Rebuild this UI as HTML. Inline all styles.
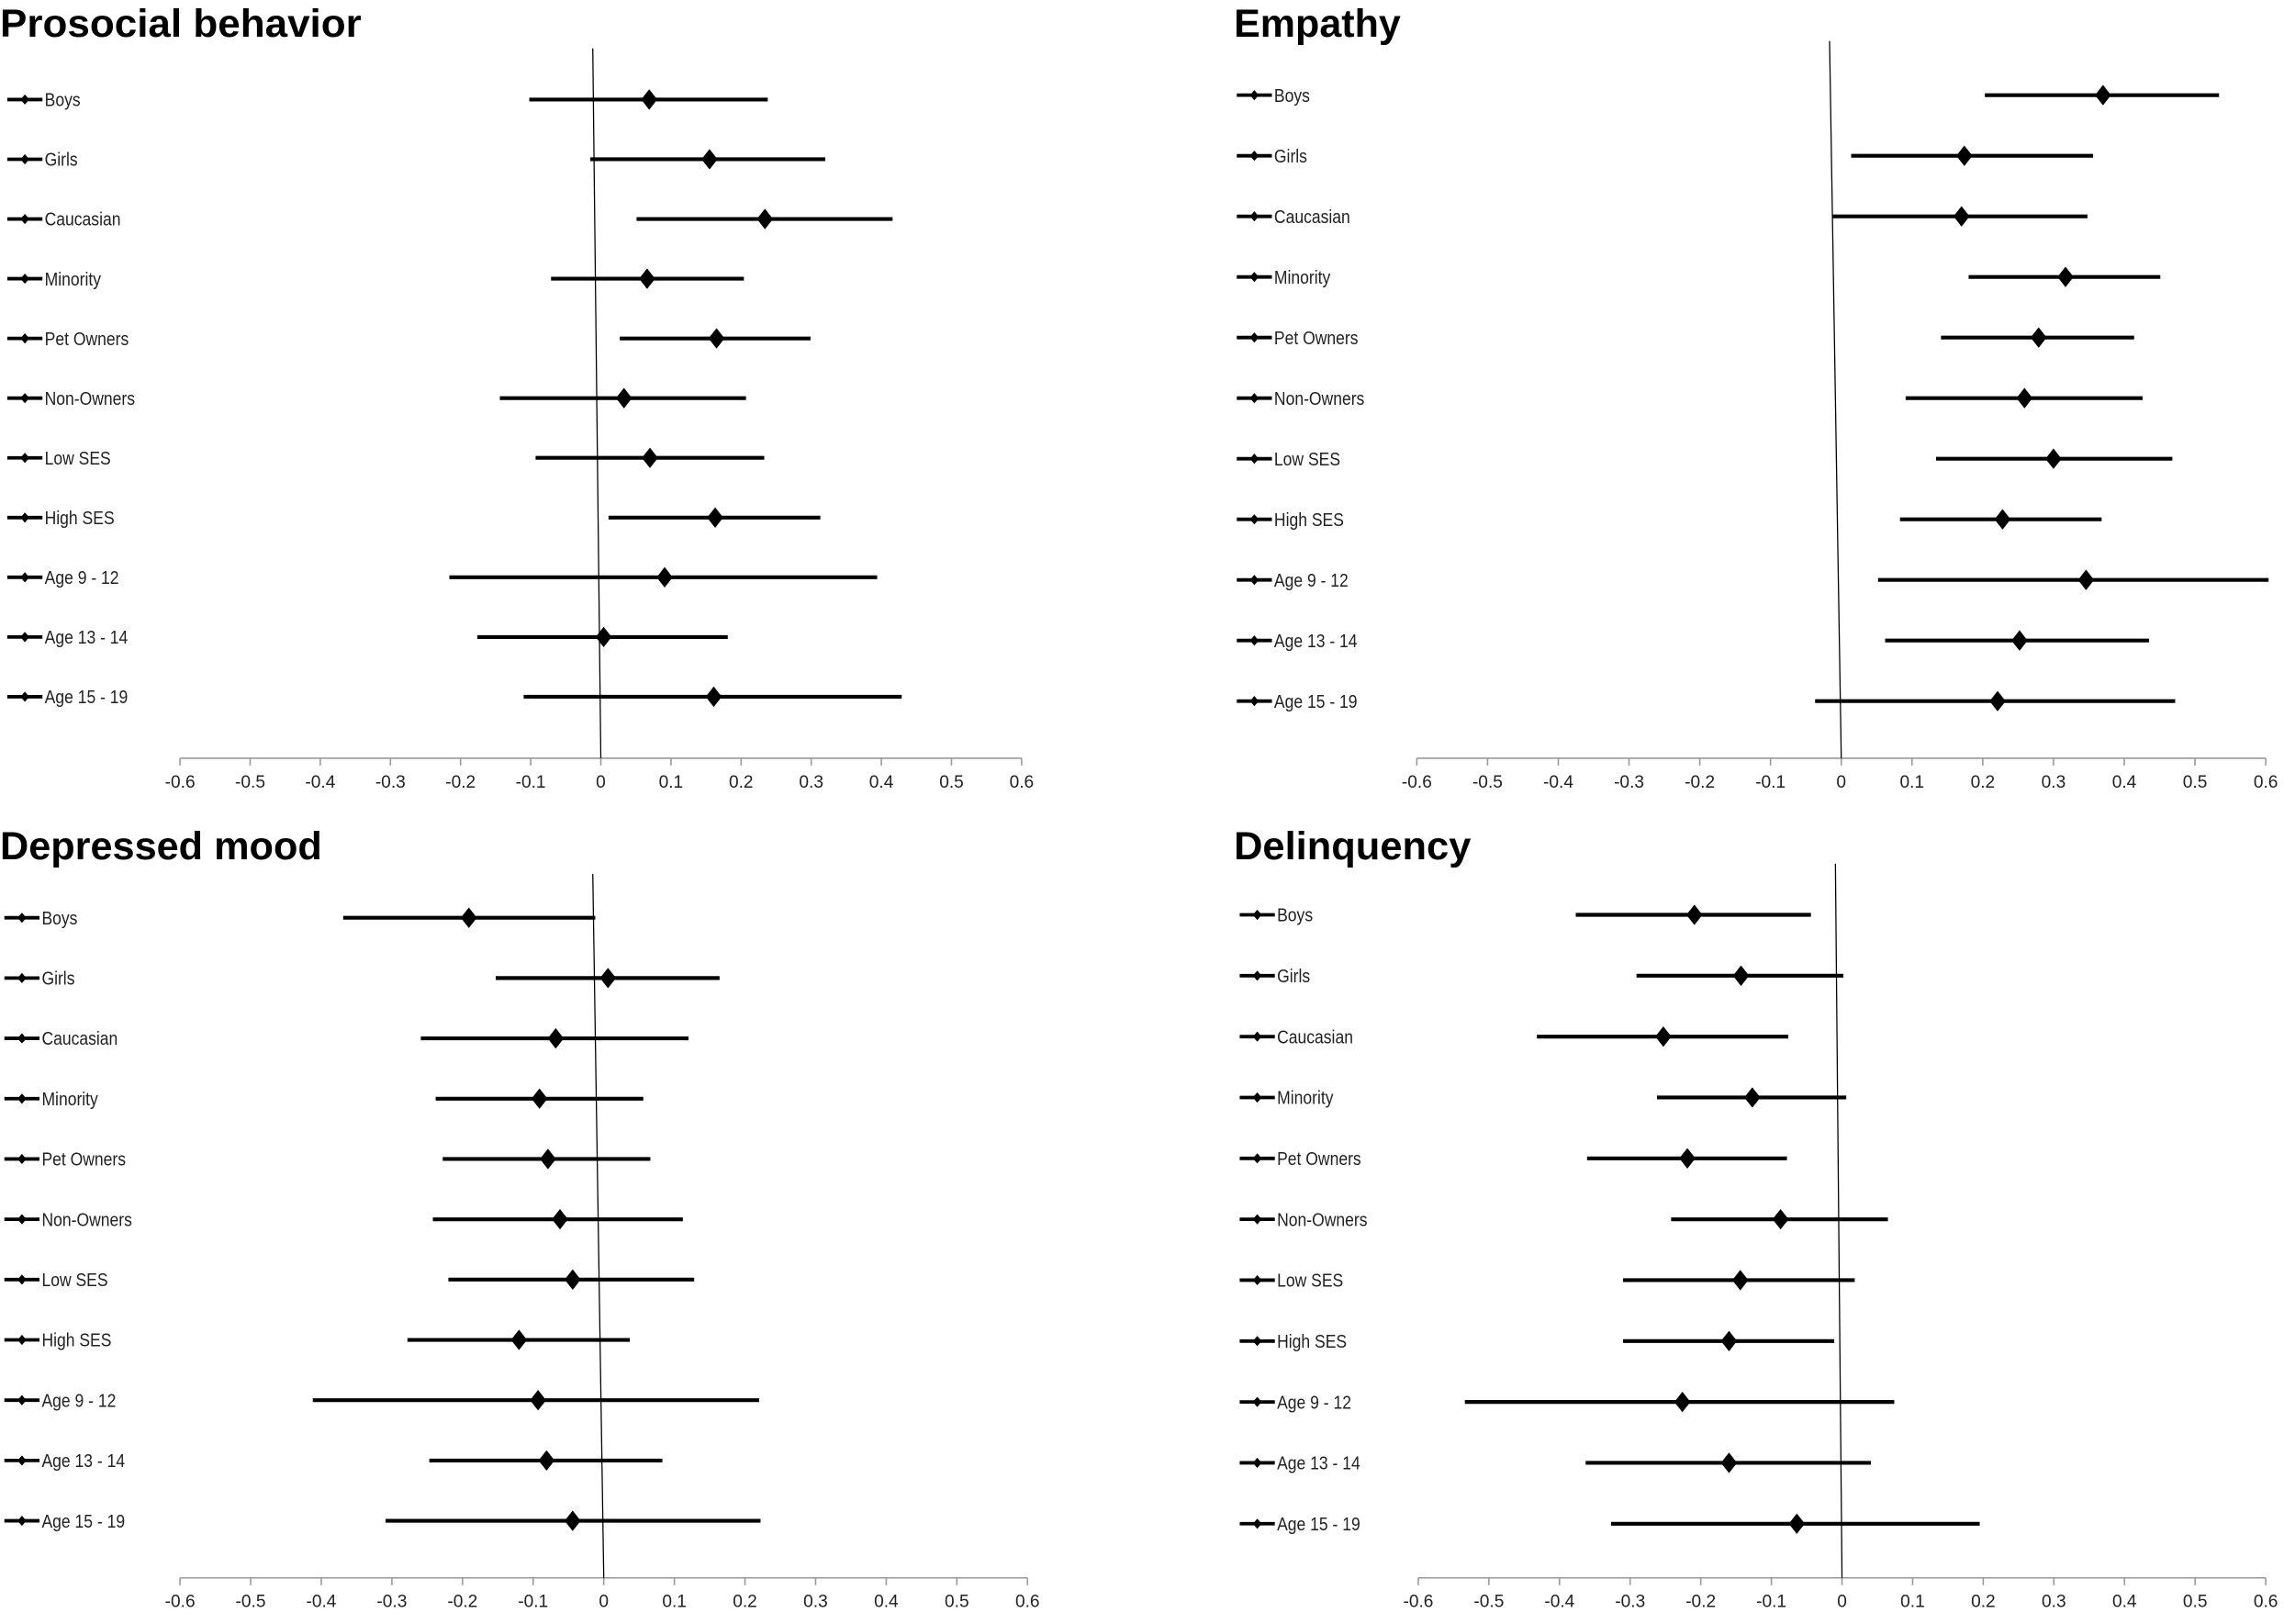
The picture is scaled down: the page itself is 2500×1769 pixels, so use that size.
<!DOCTYPE html>
<html><head><meta charset="utf-8"><style>
html,body{margin:0;padding:0;background:#fff}
svg{display:block}
text{font-family:"Liberation Sans",sans-serif}
</style></head><body>
<svg id="chart" xmlns="http://www.w3.org/2000/svg" width="2500" height="1769" viewBox="0 0 1568 1109.5"></svg>
<script>
const categories = ["Boys","Girls","Caucasian","Minority","Pet Owners","Non-Owners","Low SES","High SES","Age 9 - 12","Age 13 - 14","Age 15 - 19"];
const tickLabels = ["-0.6","-0.5","-0.4","-0.3","-0.2","-0.1","0","0.1","0.2","0.3","0.4","0.5","0.6"];
const tickValues = [-0.6,-0.5,-0.4,-0.3,-0.2,-0.1,0,0.1,0.2,0.3,0.4,0.5,0.6];
const panelTitles = ["Prosocial behavior","Empathy","Depressed mood","Delinquency"];

const prosocialPoint = [0.069,0.155,0.234,0.066,0.165,0.033,0.070,0.163,0.091,0.004,0.161];
const prosocialLow   = [-0.102,-0.015,0.051,-0.071,0.027,-0.144,-0.093,0.011,-0.216,-0.176,-0.110];
const prosocialHigh  = [0.238,0.320,0.416,0.204,0.299,0.207,0.233,0.313,0.394,0.181,0.429];

const empathyPoint = [0.370,0.174,0.170,0.317,0.279,0.259,0.300,0.228,0.346,0.252,0.221];
const empathyLow   = [0.203,0.014,-0.012,0.180,0.141,0.091,0.134,0.083,0.052,0.062,-0.037];
const empathyHigh  = [0.534,0.356,0.348,0.451,0.414,0.426,0.468,0.368,0.604,0.435,0.472];

const depressedPoint = [-0.191,0.006,-0.068,-0.091,-0.079,-0.062,-0.044,-0.120,-0.093,-0.081,-0.044];
const depressedLow   = [-0.369,-0.153,-0.259,-0.238,-0.228,-0.242,-0.220,-0.278,-0.412,-0.247,-0.309];
const depressedHigh  = [-0.012,0.164,0.120,0.056,0.066,0.112,0.128,0.037,0.220,0.083,0.222];

const delinqPoint = [-0.209,-0.143,-0.253,-0.127,-0.219,-0.087,-0.144,-0.160,-0.226,-0.160,-0.064];
const delinqLow   = [-0.377,-0.291,-0.432,-0.262,-0.361,-0.242,-0.310,-0.310,-0.534,-0.363,-0.327];
const delinqHigh  = [-0.044,0.002,-0.076,0.006,-0.078,0.065,0.018,-0.011,0.074,0.041,0.195];

const NS = "http://www.w3.org/2000/svg";
const svg = document.getElementById("chart");
function mk(tag, attrs, parent){
  const e = document.createElementNS(NS, tag);
  for (const k in attrs) e.setAttribute(k, attrs[k]);
  (parent||svg).appendChild(e);
  return e;
}

const panels = [
  {title:0, tx:0, ty:25, titleLen:247, x0:123, x1:698, axisY:518, zeroTopX:405, zeroTop:33, row0:68, rowN:476, legX:5, pts:prosocialPoint, lo:prosocialLow, hi:prosocialHigh, key:"prosocial"},
  {title:1, tx:843, ty:25, titleLen:114, x0:968, x1:1548, axisY:518, zeroTopX:1250, zeroTop:28, row0:65, rowN:479, legX:845, pts:empathyPoint, lo:empathyLow, hi:empathyHigh, key:"empathy"},
  {title:2, tx:0, ty:587, titleLen:220, x0:123, x1:702, axisY:1078, zeroTopX:405, zeroTop:597, row0:627, rowN:1039, legX:3, pts:depressedPoint, lo:depressedLow, hi:depressedHigh, key:"depressed-mood"},
  {title:3, tx:843, ty:587, titleLen:162, x0:969, x1:1548, axisY:1078, zeroTopX:1254, zeroTop:590, row0:625, rowN:1041, legX:847, pts:delinqPoint, lo:delinqLow, hi:delinqHigh, key:"delinquency"}
];

panels.forEach(p => {
  const g = mk("g", {});
  
  
  const xs = v => p.x0 + (v + 0.6) / 1.2 * (p.x1 - p.x0);
  const ys = i => p.row0 + i * (p.rowN - p.row0) / (categories.length - 1);

  const t = mk("text", {x:p.tx, y:p.ty, "font-size":27, "font-weight":"bold", textLength:p.titleLen, lengthAdjust:"spacingAndGlyphs", fill:"#000"}, g);
  t.textContent = panelTitles[p.title];
  
  

  const ax = mk("line", {x1:p.x0, y1:p.axisY, x2:p.x1, y2:p.axisY, stroke:"#999", "stroke-width":1}, g);
  
  
  tickValues.forEach((v, i) => {
    const tk = mk("line", {x1:xs(v), y1:p.axisY, x2:xs(v), y2:p.axisY + 5, stroke:"#999", "stroke-width":1}, g);
    
    
    const tl = mk("text", {x:xs(v), y:p.axisY + 20, "font-size":12, "text-anchor":"middle", fill:"#222"}, g);
    tl.textContent = tickLabels[i];
    
    
  });

  const zl = mk("line", {x1:p.zeroTopX, y1:p.zeroTop, x2:xs(0), y2:p.axisY, stroke:"#000", "stroke-width":0.8}, g);
  
  

  categories.forEach((c, i) => {
    const y = ys(i);
    const lm = mk("line", {x1:p.legX, y1:y, x2:p.legX + 24, y2:y, stroke:"#000", "stroke-width":2.4}, g);
    
    
    const cx = p.legX + 12;
    const ld = mk("polygon", {points:`${cx},${y-3.5} ${cx+3},${y} ${cx},${y+3.5} ${cx-3},${y}`, fill:"#000"}, g);
    
    
    const lt = mk("text", {x:0, y:0, "font-size":12.5, fill:"#222", transform:`translate(${p.legX + 25.5},${y + 4.5}) scale(0.88,1)`}, g);
    lt.textContent = c;
    
    

    const ci = mk("line", {x1:xs(p.lo[i]), y1:y, x2:xs(p.hi[i]), y2:y, stroke:"#000", "stroke-width":2.6}, g);
    
    
    const px = xs(p.pts[i]);
    const dm = mk("polygon", {points:`${px},${y-7} ${px+5.5},${y} ${px},${y+7} ${px-5.5},${y}`, fill:"#000"}, g);
    
    
  });
});
</script>
</body></html>
